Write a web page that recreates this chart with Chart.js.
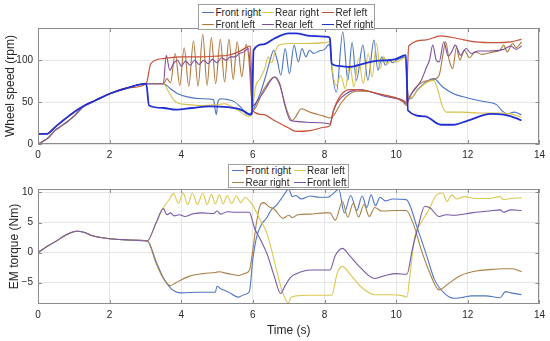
<!DOCTYPE html>
<html>
<head>
<meta charset="utf-8">
<script src="https://cdn.jsdelivr.net/npm/chart.js@4.4.1/dist/chart.umd.min.js"></script>
<style>
  body { margin: 0; background: #fff; font-family: "Liberation Sans", Arial, sans-serif; }
  #wrap { position: relative; width: 550px; height: 341px; overflow: hidden; }
  canvas { position: absolute; left: 0; }
  .legend { position: absolute; background: #fff; border: 1px solid #a0a0a0; box-sizing: border-box; }
  .legend .ln { position: absolute; height: 1.4px; width: 12px; }
  .legend .tx { position: absolute; font-size: 10px; line-height: 12px; color: #262626; white-space: nowrap; transform: translateY(-50%); }
</style>
</head>
<body>
<div id="wrap">
  <canvas id="speedChart" width="550" height="170" style="top:0"></canvas>
  <canvas id="torqueChart" width="550" height="171" style="top:170px"></canvas>
  <div id="speedLegend" class="legend" style="left:198px;top:4px;width:177px;height:26px"></div>
  <div id="torqueLegend" class="legend" style="left:228px;top:164px;width:121px;height:24px"></div>
</div>
<script>
let timeTicks = [0, 2, 4, 6, 8, 10, 12, 14];
let speedTicks = [0, 50, 100];
let torqueTicks = [-5, 0, 5, 10];

// wheel speed (rpm) - common start of all wheels and of both references
let wheelRiseT = [0, 0.1, 0.3, 0.47, 0.6, 0.8, 1.0, 1.3, 1.6, 2.0, 2.5, 3.0, 3.5];
let wheelRiseV = [0, 2, 8, 16, 20, 26, 33, 46, 52, 60, 67, 72, 72];
let refRiseT = [0, 0.24, 0.5, 0.7, 1.0, 1.3, 1.6, 2.0, 2.5, 3.02];
let refRiseV = [12, 12, 21, 28, 38, 46, 52, 60, 67, 72];

let frontRightT = [3.7, 3.9, 4.2, 4.6, 4.9, 4.95, 4.98, 5.02, 5.1, 5.3, 5.5, 5.7, 5.82, 5.9, 5.97, 6.05, 6.2, 6.35, 6.48, 6.58, 6.68, 6.78, 6.9, 7.02, 7.15, 7.27, 7.37, 7.48, 7.58, 7.7, 7.85, 8.0, 8.1, 8.15, 8.2, 8.33, 8.51, 8.65, 8.77, 8.89, 9.07, 9.21, 9.38, 9.49, 9.6, 9.7, 9.8, 9.9, 10.0, 10.25, 10.33, 10.4, 10.6, 10.8, 11.05, 11.3, 11.6, 12.0, 12.4, 12.8, 12.95, 13.1, 13.3, 13.5];
let frontRightV = [66, 60, 56, 54, 53, 40, 35, 50, 54, 53, 50, 42, 36, 36, 38, 45, 60, 80, 100, 112, 100, 82, 114, 84, 118, 98, 114, 104, 112, 108, 111, 113, 118, 119, 92, 62, 134, 76, 121, 76, 118, 76, 124, 88, 104, 94, 101, 97, 100, 104, 60, 54, 65, 73, 78, 68, 60, 55, 51, 47, 40, 36, 38, 35];

let frontLeftT = [3.6, 3.7, 3.83, 3.96, 4.08, 4.21, 4.34, 4.47, 4.6, 4.72, 4.84, 4.96, 5.09, 5.21, 5.33, 5.45, 5.56, 5.69, 5.81, 5.88, 5.95, 6.0, 6.3, 6.6, 6.75, 6.95, 7.1, 7.2, 7.35, 7.6, 8.0, 8.15, 8.25, 8.45, 8.65, 8.9, 9.2, 9.5, 9.8, 10.0, 10.2, 10.28, 10.35, 10.45, 10.6, 10.8, 11.05, 11.2, 11.3, 11.38, 11.48, 11.58, 11.68, 11.78, 11.9, 12.05, 12.2, 12.4, 12.7, 12.9, 13.0, 13.1, 13.25, 13.35, 13.5];
let frontLeftV = [78, 73, 108, 70, 115, 69, 123, 69, 131, 70, 127, 72, 125, 74, 125, 77, 122, 80, 119, 105, 60, 40, 65, 80, 70, 40, 28, 33, 42, 38, 33, 31, 34, 48, 58, 63, 63, 60, 57, 55, 50, 46, 52, 62, 70, 75, 77, 82, 105, 122, 100, 90, 115, 100, 112, 103, 110, 107, 110, 112, 118, 110, 120, 115, 122];

let rearRightT = [3.65, 3.8, 3.9, 4.2, 4.6, 5.0, 5.2, 5.35, 5.6, 5.8, 5.9, 5.97, 6.07, 6.2, 6.33, 6.43, 6.52, 6.62, 6.72, 7.0, 7.5, 8.0, 8.15, 8.22, 8.33, 8.45, 8.58, 8.7, 8.82, 8.95, 9.08, 9.22, 9.33, 9.45, 9.55, 9.65, 9.75, 9.85, 10.0, 10.25, 10.33, 10.4, 10.6, 10.8, 11.05, 11.15, 11.3, 11.4, 11.8, 12.4, 12.9, 13.2, 13.5];
let rearRightV = [62, 52, 49, 47, 46, 47, 48, 46, 40, 34, 33, 36, 68, 78, 90, 104, 97, 110, 118, 120, 120, 121, 122, 88, 70, 82, 66, 96, 68, 102, 72, 108, 80, 120, 90, 104, 95, 100, 98, 103, 58, 55, 64, 72, 76, 66, 44, 38, 38, 37, 37, 36, 32];

let rearLeftT = [3.58, 3.68, 3.78, 3.9, 4.0, 4.12, 4.25, 4.37, 4.5, 4.62, 4.75, 4.87, 5.0, 5.12, 5.25, 5.37, 5.5, 5.62, 5.75, 5.87, 5.93, 5.98, 6.1, 6.3, 6.5, 6.62, 6.75, 6.9, 7.05, 7.2, 7.5, 8.0, 8.15, 8.25, 8.4, 8.6, 8.8, 9.0, 9.3, 9.6, 9.9, 10.2, 10.28, 10.35, 10.5, 10.7, 10.85, 10.93, 11.02, 11.12, 11.2, 11.33, 11.45, 11.55, 11.65, 11.8, 11.95, 12.1, 12.3, 12.6, 13.0, 13.2, 13.35, 13.5];
let rearLeftV = [106, 88, 96, 100, 93, 99, 94, 100, 95, 100, 96, 101, 97, 103, 100, 104, 104, 108, 110, 114, 90, 45, 50, 62, 76, 80, 72, 45, 28, 27, 26, 25, 24, 40, 52, 60, 64, 65, 62, 58, 55, 52, 48, 55, 64, 76, 92, 100, 118, 100, 98, 122, 105, 110, 118, 106, 114, 108, 111, 111, 113, 117, 113, 117];

let refLeftT = [3.15, 3.5, 4.0, 4.5, 5.0, 5.3, 5.6, 5.85, 5.93, 5.99, 6.3, 6.6, 7.0, 7.2, 7.6, 8.0, 8.15, 8.25, 8.45, 8.7, 9.1, 9.5, 10.0, 10.28, 10.35, 10.8, 11.25, 11.7, 12.2, 12.8, 13.2, 13.5];
let refLeftV = [96, 102, 104, 104, 105, 106, 110, 116, 117, 40, 35, 28, 19, 15, 16, 20, 22, 40, 58, 65, 64, 60, 55, 50, 117, 124, 129, 126, 122, 121, 122, 125];

let refRightT = [3.1, 3.5, 3.85, 4.3, 4.8, 5.3, 5.6, 5.8, 5.92, 5.97, 6.02, 6.3, 6.6, 7.0, 7.2, 7.6, 8.1, 8.15, 8.2, 8.45, 8.7, 9.1, 9.4, 9.96, 10.27, 10.33, 10.8, 11.25, 11.6, 12.0, 12.64, 13.0, 13.4, 13.5];
let refRightV = [46, 43, 41, 43, 45, 44, 42, 38, 35, 36, 112, 119, 126, 132, 132, 129, 128, 126, 96, 93, 92, 96, 99, 101, 106, 40, 33, 23, 23, 28, 36, 35, 30, 28];

// EM torque (Nm) - common start of all four motors
let torqueRiseT = [0, 0.25, 0.52, 0.8, 1.08, 1.3, 1.5, 2.0, 2.55, 3.05];
let torqueRiseV = [0, 1.0, 1.95, 3.0, 3.55, 3.35, 2.85, 2.3, 2.1, 1.95];

let tqFrontRightT = [3.3, 3.5, 3.7, 3.85, 4.0, 4.5, 4.95, 5.0, 5.1, 5.3, 5.6, 5.75, 5.9, 6.0, 6.1, 6.25, 6.38, 6.5, 6.66, 6.8, 7.0, 7.1, 7.2, 7.35, 7.6, 7.85, 8.1, 8.2, 8.4, 8.55, 8.73, 8.9, 9.05, 9.18, 9.3, 9.42, 9.55, 9.7, 9.9, 10.28, 10.6, 10.85, 11.07, 11.35, 11.6, 11.9, 12.1, 12.5, 12.9, 13.05, 13.2, 13.5];
let tqFrontRightV = [-1.5, -4.2, -5.9, -6.5, -6.7, -6.6, -6.6, -5.6, -6.0, -6.5, -7.4, -7.0, -6.5, -1.0, 2.5, 4.8, 5.7, 7.0, 7.9, 9.0, 10.5, 9.3, 9.5, 8.9, 9.4, 9.2, 9.2, 9.6, 10.5, 6.6, 9.5, 7.0, 9.4, 7.5, 9.6, 7.8, 9.2, 8.6, 8.9, 8.8, 3.9, -0.5, -4.5, -6.8, -7.6, -7.4, -7.2, -7.2, -7.5, -6.5, -6.7, -7.0];

let tqRearRightT = [3.3, 3.5, 3.7, 3.85, 4.2, 4.6, 4.95, 5.05, 5.3, 5.6, 5.8, 5.9, 6.0, 6.1, 6.2, 6.3, 6.45, 6.6, 6.84, 7.0, 7.1, 7.25, 7.6, 8.0, 8.15, 8.3, 8.5, 8.65, 8.8, 8.95, 9.1, 9.25, 9.4, 9.6, 10.0, 10.28, 10.5, 10.7, 10.9, 11.2, 11.45, 11.8, 12.3, 12.7, 13.05, 13.25, 13.5];
let tqRearRightV = [-1.8, -4.3, -5.5, -5.0, -4.0, -3.5, -3.3, -3.2, -3.5, -3.8, -3.4, -3.0, 0.5, 5.0, 7.8, 8.3, 7.6, 7.2, 5.7, 6.2, 5.8, 6.3, 6.4, 6.6, 6.6, 5.4, 8.5, 5.9, 8.2, 5.9, 8.0, 6.0, 7.5, 6.9, 7.0, 7.0, 4.4, 0.5, -2.8, -6.2, -5.2, -3.8, -3.0, -2.8, -2.7, -2.7, -3.2];

let tqRearLeftT = [3.3, 3.5, 3.65, 3.78, 3.92, 4.05, 4.18, 4.31, 4.45, 4.6, 4.72, 4.84, 4.95, 5.06, 5.17, 5.28, 5.4, 5.54, 5.66, 5.78, 5.9, 6.0, 6.2, 6.38, 6.52, 6.65, 6.84, 7.0, 7.05, 7.2, 7.6, 8.0, 8.2, 8.35, 8.5, 8.7, 9.0, 9.4, 9.8, 10.2, 10.3, 10.38, 10.52, 10.7, 10.9, 11.13, 11.3, 11.42, 11.55, 11.7, 11.9, 12.2, 12.6, 12.9, 13.0, 13.2, 13.5];
let tqRearLeftV = [5.0, 7.5, 8.7, 9.8, 8.2, 9.9, 8.0, 9.9, 8.0, 9.9, 8.0, 9.7, 8.1, 9.6, 8.1, 9.5, 8.2, 9.4, 8.3, 9.2, 8.6, 7.8, 5.5, 3.4, 0.5, -2.7, -6.8, -8.4, -7.6, -7.2, -7.1, -7.1, -7.1, -3.5, -2.3, -3.5, -5.6, -7.0, -7.0, -7.2, -7.4, -4.0, 2.7, 5.0, 7.0, 9.6, 9.9, 8.5, 9.6, 8.9, 9.3, 9.0, 9.0, 9.3, 8.8, 9.0, 9.1];

let tqFrontLeftT = [3.3, 3.5, 3.6, 3.7, 3.8, 3.95, 4.1, 4.3, 4.6, 4.9, 5.0, 5.1, 5.3, 5.5, 5.9, 6.0, 6.05, 6.2, 6.4, 6.6, 6.77, 6.9, 7.04, 7.22, 7.6, 8.15, 8.3, 8.5, 8.7, 9.0, 9.4, 9.7, 10.0, 10.3, 10.45, 10.6, 10.8, 10.95, 11.2, 11.4, 11.6, 12.1, 12.6, 12.9, 13.0, 13.2, 13.5];
let tqFrontLeftV = [5.0, 7.3, 6.3, 6.6, 6.1, 6.3, 6.0, 6.4, 6.6, 6.5, 6.9, 6.4, 6.8, 6.7, 6.7, 5.0, 4.0, 2.3, -0.3, -4.0, -6.8, -5.5, -4.2, -3.5, -2.9, -2.9, -0.5, 0.7, -0.5, -2.5, -4.3, -3.8, -3.5, -3.6, 0.5, 4.0, 7.7, 7.4, 6.0, 6.3, 6.2, 6.6, 6.9, 7.1, 6.7, 7.1, 7.0];

function pts(ts, vs) {
  return ts.map((t, i) => ({ x: t, y: vs[i] }));
}

function series(label, color, width, ts, vs) {
  return { label: label, data: pts(ts, vs), borderColor: color, backgroundColor: color,
    borderWidth: width, pointRadius: 0, fill: false, cubicInterpolationMode: "monotone" };
}

// axes box with inward ticks, like the original figure
let boxPlugin = {
  id: "box",
  afterDatasetsDraw(chart) {
    let c = chart.ctx, a = chart.chartArea, sx = chart.scales.x, sy = chart.scales.y;
    c.save();
    c.strokeStyle = "#8c8c8c";
    c.lineWidth = 1;
    c.strokeRect(Math.round(a.left) + 0.5, Math.round(a.top) + 0.5, Math.round(a.width) - 1, Math.round(a.height) - 1);
    c.beginPath();
    sx.ticks.forEach(t => {
      let p = Math.round(sx.getPixelForValue(t.value)) + 0.5;
      c.moveTo(p, a.bottom); c.lineTo(p, a.bottom - 4);
      c.moveTo(p, a.top); c.lineTo(p, a.top + 4);
    });
    sy.ticks.forEach(t => {
      let p = Math.round(sy.getPixelForValue(t.value)) + 0.5;
      c.moveTo(a.left, p); c.lineTo(a.left + 4, p);
      c.moveTo(a.right, p); c.lineTo(a.right - 4, p);
    });
    c.stroke();
    c.restore();
  }
};

Chart.defaults.font.family = '"Liberation Sans", Arial, sans-serif';
Chart.defaults.font.size = 10;
Chart.defaults.color = "#262626";

function makeOptions(o) {
  return {
    responsive: false,
    animation: false,
    layout: { padding: { left: 0, right: 10, top: o.padTop, bottom: 0 } },
    plugins: { legend: { display: false }, tooltip: { enabled: false } },
    scales: {
      x: {
        type: "linear", min: 0, max: 14,
        afterBuildTicks: s => { s.ticks = timeTicks.map(v => ({ value: v })); },
        afterFit: s => { s.height = o.xHeight; },
        grid: { color: "#e6e6e6", drawTicks: false },
        border: { display: false },
        ticks: { padding: 5, maxRotation: 0, color: "#262626" },
        title: { display: !!o.xTitle, text: o.xTitle, font: { size: 12 }, color: "#262626", padding: { top: 0, bottom: 3 } }
      },
      y: {
        min: o.yMin, max: o.yMax,
        afterBuildTicks: s => { s.ticks = o.yTicks.map(v => ({ value: v })); },
        afterFit: s => { s.width = 38; },
        grid: { color: "#e6e6e6", drawTicks: false },
        border: { display: false },
        ticks: { padding: 5, color: "#262626", callback: v => String(v).replace("-", "\u2212") },
        title: { display: true, text: o.yTitle, font: { size: 12 }, color: "#262626", padding: { top: o.yTitlePad, bottom: 0 } }
      }
    }
  };
}

let speedSets = [
  series("Front right", "#4a74c4", 1.1, wheelRiseT.concat(frontRightT), wheelRiseV.concat(frontRightV)),
  series("Front left", "#b0763c", 1.1, wheelRiseT.concat(frontLeftT), wheelRiseV.concat(frontLeftV)),
  series("Rear right", "#d8c24a", 1.1, wheelRiseT.concat(rearRightT), wheelRiseV.concat(rearRightV)),
  series("Rear left", "#7e4f9e", 1.1, wheelRiseT.concat(rearLeftT), wheelRiseV.concat(rearLeftV)),
  series("Ref left", "#c8503a", 1.2, refRiseT.concat(refLeftT), refRiseV.concat(refLeftV)),
  series("Ref right", "#2230d0", 1.8, refRiseT.concat(refRightT), refRiseV.concat(refRightV))
];
speedSets.forEach((d, i) => { d.order = speedSets.length - i; });

let torqueSets = [
  series("Front right", "#4f76c8", 1.1, torqueRiseT.concat(tqFrontRightT), torqueRiseV.concat(tqFrontRightV)),
  series("Rear right", "#a88048", 1.1, torqueRiseT.concat(tqRearRightT), torqueRiseV.concat(tqRearRightV)),
  series("Rear left", "#dcc84e", 1.1, torqueRiseT.concat(tqRearLeftT), torqueRiseV.concat(tqRearLeftV)),
  series("Front left", "#7658a8", 1.1, torqueRiseT.concat(tqFrontLeftT), torqueRiseV.concat(tqFrontLeftV))
];
torqueSets.forEach((d, i) => { d.order = torqueSets.length - i; });

new Chart(document.getElementById("speedChart").getContext("2d"), {
  type: "line",
  data: { datasets: speedSets },
  options: makeOptions({ padTop: 28, xHeight: 26, yMin: 0, yMax: 138.5, yTicks: speedTicks,
    yTitle: "Wheel speed (rpm)", yTitlePad: 3, xTitle: "" }),
  plugins: [boxPlugin]
});

new Chart(document.getElementById("torqueChart").getContext("2d"), {
  type: "line",
  data: { datasets: torqueSets },
  options: makeOptions({ padTop: 19, xHeight: 37, yMin: -8.55, yMax: 10.57, yTicks: torqueTicks,
    yTitle: "EM torque (Nm)", yTitlePad: 7, xTitle: "Time (s)" }),
  plugins: [boxPlugin]
});

// legends laid out in columns like the figure
function buildLegend(id, sets, cols, colX, rowY) {
  let box = document.getElementById(id);
  sets.forEach((d, i) => {
    let col = Math.floor(i / 2), row = i % 2;
    let ln = document.createElement("div");
    ln.className = "ln";
    ln.style.left = colX[col] + "px";
    ln.style.top = (rowY[row] - 1) + "px";
    ln.style.background = d.borderColor;
    let tx = document.createElement("div");
    tx.className = "tx";
    tx.style.left = (colX[col] + 13.5) + "px";
    tx.style.top = rowY[row] + "px";
    tx.textContent = d.label;
    box.appendChild(ln);
    box.appendChild(tx);
  });
}

buildLegend("speedLegend", speedSets, 3, [3, 62.5, 123], [8, 19.5]);
buildLegend("torqueLegend", torqueSets, 2, [3, 64.5], [5.5, 17.5]);
</script>
</body>
</html>
